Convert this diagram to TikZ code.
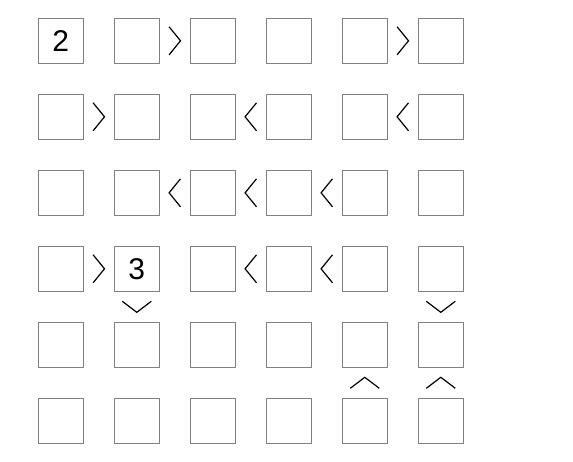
\documentclass[tikz,border=0pt]{standalone}
\usepackage{fontspec}
\setmainfont{Liberation Sans}
\usetikzlibrary{calc}

\tikzset{
    cell/.style={draw=gray, line width=1.2pt, minimum size=45pt, inner sep=0pt,
        font=\fontsize{30}{36}\selectfont},
    sign/.style={line width=1.2pt, black, line join=miter}
}

\begin{document}
\begin{tikzpicture}[x=1pt, y=-1pt]
    \useasboundingbox (0,0) rectangle (573,461);

    % Grid of cells
    \foreach \r in {0,...,5}
        \foreach \c in {0,...,5}
            \node[cell] (c-\r-\c) at ({60.8+76*\c},{40.8+76*\r}) {};

    % Given digits
    \node at (c-0-0) [font=\fontsize{30}{36}\selectfont] {2};
    \node at (c-3-1) [font=\fontsize{30}{36}\selectfont] {3};

    % Left cell greater
    \foreach \r/\c [evaluate=\c as \d using int(\c+1)] in {0/1,0/4,1/0,3/0} {
        \coordinate (m) at ($(c-\r-\c)!0.5!(c-\r-\d)$);
        \draw[sign] ([shift={(-5.7,-14)}]m) -- ([shift={(5.7,0)}]m) -- ([shift={(-5.7,14)}]m);
    }

    % Right cell greater
    \foreach \r/\c [evaluate=\c as \d using int(\c+1)] in {1/2,1/4,2/1,2/2,2/3,3/2,3/3} {
        \coordinate (m) at ($(c-\r-\c)!0.5!(c-\r-\d)$);
        \draw[sign] ([shift={(5.7,-14)}]m) -- ([shift={(-5.7,0)}]m) -- ([shift={(5.7,14)}]m);
    }

    % Upper cell greater
    \foreach \r/\c [evaluate=\r as \s using int(\r+1)] in {3/1,3/5} {
        \coordinate (m) at ($(c-\r-\c)!0.5!(c-\s-\c)$);
        \draw[sign] ([shift={(-14.5,-5.5)}]m) -- ([shift={(0,5.5)}]m) -- ([shift={(14.5,-5.5)}]m);
    }

    % Lower cell greater
    \foreach \r/\c [evaluate=\r as \s using int(\r+1)] in {4/4,4/5} {
        \coordinate (m) at ($(c-\r-\c)!0.5!(c-\s-\c)$);
        \draw[sign] ([shift={(-14.5,5.5)}]m) -- ([shift={(0,-5.5)}]m) -- ([shift={(14.5,5.5)}]m);
    }
\end{tikzpicture}
\end{document}
